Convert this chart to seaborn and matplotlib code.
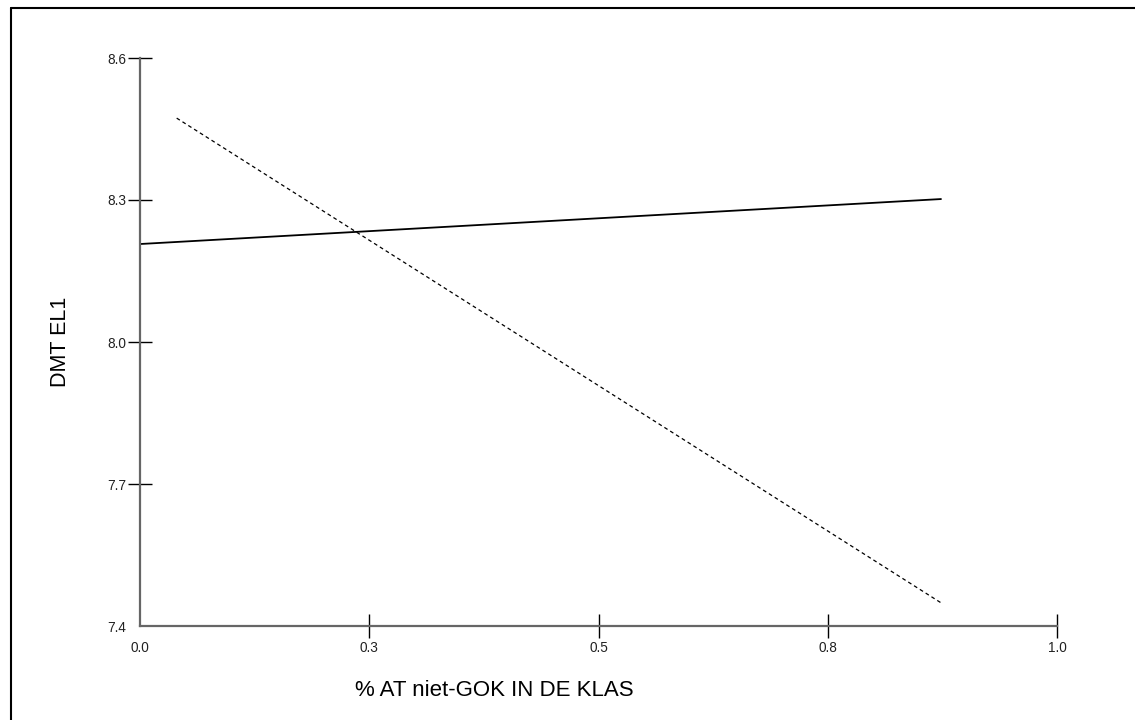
import matplotlib
matplotlib.use("Agg")
import matplotlib.pyplot as plt
import seaborn as sns
import pandas as pd

# Predicted DMT EL1 score against the share of non-GOK pupils in the class
group_names = ["lijn 1", "lijn 2"]
x_solid = [0.0, 0.8735]
y_solid = [8.207, 8.302]
x_dashed = [0.040, 0.8735]
y_dashed = [8.473, 7.449]

x_ticks = [0.0, 0.25, 0.5, 0.75, 1.0]
x_tick_labels = ["0.0", "0.3", "0.5", "0.8", "1.0"]
y_ticks = [7.4, 7.7, 8.0, 8.3, 8.6]
y_tick_labels = ["7.4", "7.7", "8.0", "8.3", "8.6"]

df = pd.DataFrame({
    "x": x_solid + x_dashed,
    "y": y_solid + y_dashed,
    "groep": [group_names[0]] * len(x_solid) + [group_names[1]] * len(x_dashed),
})

sns.set_style("white")
plt.rcParams["font.family"] = ["Liberation Sans", "DejaVu Sans"]

fig = plt.figure(figsize=(11.35, 7.2), dpi=100)
ax = fig.add_axes([140 / 1135, 1 - 626 / 720, 917 / 1135, 568 / 720])

sns.lineplot(data=df, x="x", y="y", hue="groep", style="groep",
             palette=["black", "black"],
             dashes={group_names[0]: "", group_names[1]: (3, 2.5)},
             legend=False, ax=ax, sort=False, estimator=None)
for line, lw in zip(ax.get_lines(), [1.3, 0.9]):
    line.set_linewidth(lw)

ax.set_xlim(0, 1.0)
ax.set_ylim(7.4, 8.6)
ax.set_xticks(x_ticks)
ax.set_xticklabels(x_tick_labels)
ax.set_yticks(y_ticks)
ax.set_yticklabels(y_tick_labels)
ax.tick_params(axis="both", direction="inout", length=17, width=1.0,
               color="black", labelsize=9.8, labelcolor="#222222")
ax.tick_params(axis="x", bottom=True, pad=2.5)
ax.tick_params(axis="y", left=True, pad=1.5)

# No tick marks at the origin corner, only the labels
ax.xaxis.get_major_ticks()[0].tick1line.set_visible(False)
ax.yaxis.get_major_ticks()[0].tick1line.set_visible(False)

for side in ["top", "right"]:
    ax.spines[side].set_visible(False)
for side in ["left", "bottom"]:
    ax.spines[side].set_color("#666666")
    ax.spines[side].set_linewidth(1.6)

ax.set_xlabel("")
ax.set_ylabel("")
fig.text(61 / 1135, 1 - 342 / 720, "DMT EL1", rotation=90,
         ha="center", va="center", fontsize=15.5, color="black")
fig.text(494 / 1135, 1 - 690 / 720, "% AT niet-GOK IN DE KLAS",
         ha="center", va="center", fontsize=16, color="black")

# Frame along the top and left edges of the canvas
fig.add_artist(plt.Line2D([10.5 / 1135, 10.5 / 1135], [0, 1 - 7.5 / 720],
                          transform=fig.transFigure, color="black", lw=1.5))
fig.add_artist(plt.Line2D([10.5 / 1135, 1], [1 - 7.5 / 720, 1 - 7.5 / 720],
                          transform=fig.transFigure, color="black", lw=1.5))

fig.savefig("out.png", dpi=100, facecolor="white")
